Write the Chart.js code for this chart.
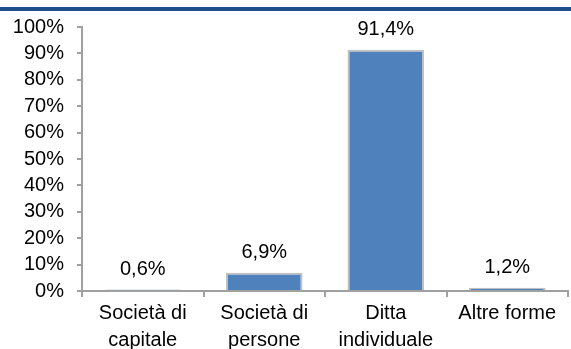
<!DOCTYPE html>
<html>
<head>
<meta charset="utf-8">
<script src="https://cdn.jsdelivr.net/npm/chart.js@4"></script>
<style>
  body { margin: 0; background: #fff; }
  #wrap { position: relative; width: 571px; height: 349px; overflow: hidden; }
  #bar { position: absolute; left: 0; top: 7px; width: 571px; height: 4px; background: #1F4E8A; }
  canvas { position: absolute; left: 0; top: 0; }
</style>
</head>
<body>
<div id="wrap">
  <div id="bar"></div>
  <canvas id="formeChart" width="571" height="349"></canvas>
</div>
<script>
// categorie e valori (%)
const categorie = [['Società di', 'capitale'], ['Società di', 'persone'], ['Ditta', 'individuale'], 'Altre forme'];
const valori = [0.6, 6.9, 91.4, 1.2];

const axisColor = '#A0A0A0';
const fontBase = { family: '"Liberation Sans", Arial, sans-serif', size: 20 };

const fmt = function (v) {
    return v.toFixed(1).replace('.', ',') + '%';
};

// etichette sopra le barre
const valueLabels = {
    id: 'valueLabels',
    afterDatasetsDraw(chart) {
        const ctx = chart.ctx;
        const meta = chart.getDatasetMeta(0);
        ctx.save();
        ctx.font = '20px ' + fontBase.family;
        ctx.fillStyle = '#000';
        ctx.textAlign = 'center';
        ctx.textBaseline = 'middle';
        meta.data.forEach(function (bar, i) {
            ctx.fillText(fmt(valori[i]), bar.x, bar.y - 20);
        });
        ctx.restore();
    }
};

Chart.defaults.font = fontBase;
Chart.defaults.color = '#000';

new Chart(document.getElementById('formeChart'), {
    type: 'bar',
    data: {
        labels: categorie,
        datasets: [{
            data: valori,
            backgroundColor: '#4F81BD',
            borderColor: '#C0C0C0',
            borderWidth: 2,
            barPercentage: 0.63,
            categoryPercentage: 1
        }]
    },
    options: {
        responsive: false,
        animation: false,
        layout: { padding: { top: 27, right: 3, left: 0, bottom: 0 } },
        plugins: { legend: { display: false }, tooltip: { enabled: false } },
        scales: {
            x: {
                grid: { drawOnChartArea: false, color: axisColor, lineWidth: 2, tickLength: 6, offset: true },
                border: { color: axisColor, width: 2 },
                ticks: { padding: 3, maxRotation: 0, autoSkip: false, font: { size: 20, lineHeight: 1.35 } },
                afterFit(scale) { scale.height = 58; }
            },
            y: {
                min: 0,
                max: 100,
                grid: { drawOnChartArea: false, color: axisColor, lineWidth: 2, tickLength: 5 },
                border: { color: axisColor, width: 2 },
                ticks: { stepSize: 10, padding: 13, autoSkip: false, callback: function (v) { return v + '%'; } },
                afterFit(scale) { scale.width = 82; }
            }
        }
    },
    plugins: [valueLabels]
});
</script>
</body>
</html>
